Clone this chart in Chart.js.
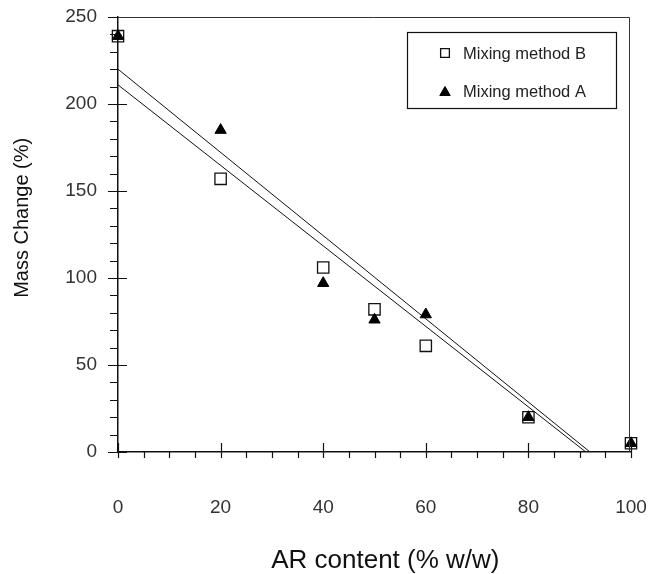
<!DOCTYPE html>
<html>
<head>
<meta charset="utf-8">
<script src="https://cdn.jsdelivr.net/npm/chart.js@4.4.0/dist/chart.umd.min.js"></script>
<style>
	html, body { margin: 0; padding: 0; background: #fff; }
	#wrap { width: 648px; height: 574px; }
</style>
</head>
<body>
<div id="wrap"><canvas id="massChart" width="648" height="574"></canvas></div>
<script>
// values
var arContent = [0, 20, 40, 50, 60, 80, 100];
var methodB = [239, 157, 106, 82, 61, 20, 5];
var methodA = [239, 185, 97, 76, 79, 20, 5];

// end points of the two fitted lines
var fitAx = [0, 92];
var fitAy = [220, 0];
var fitBx = [0, 91.2];
var fitBy = [211, 0];

var xMajor = 20, xMinor = 5;
var yMajor = 50, yMinor = 10;

var FONT = "'Liberation Sans', Arial, sans-serif";

function toPoints(xs, ys) {
	return xs.map(function (x, i) {
		return { x: x, y: ys[i] };
	});
}

// tick marks: major ones cross the axis, minor ones sit outside
var tickMarks = {
	id: "tickMarks",
	afterDatasetsDraw: function (chart) {
		var ctx = chart.ctx;
		var a = chart.chartArea;
		var xs = chart.scales.x;
		var ys = chart.scales.y;
		ctx.save();
		ctx.strokeStyle = "#111";
		ctx.lineWidth = 1.2;
		ctx.beginPath();
		xs.ticks.forEach(function (t) {
			var px = Math.round(xs.getPixelForValue(t.value)) + 0.5;
			var major = t.value % xMajor === 0;
			ctx.moveTo(px, major ? a.bottom - 9 : a.bottom);
			ctx.lineTo(px, a.bottom + 6);
		});
		ys.ticks.forEach(function (t) {
			var py = Math.round(ys.getPixelForValue(t.value)) + 0.5;
			var major = t.value % yMajor === 0;
			ctx.moveTo(a.left - (major ? 10 : 8), py);
			ctx.lineTo(major ? a.left + 9 : a.left, py);
		});
		ctx.stroke();
		// frame on top and right
		ctx.beginPath();
		ctx.lineWidth = 1;
		ctx.strokeStyle = "#333";
		ctx.moveTo(a.left, a.top + 0.5);
		ctx.lineTo(a.right - 1.5, a.top + 0.5);
		ctx.lineTo(a.right - 1.5, a.bottom);
		ctx.stroke();
		ctx.restore();
	},
};

// boxed legend inside the plot, top right
var boxLegend = {
	id: "boxLegend",
	afterDraw: function (chart) {
		var ctx = chart.ctx;
		var a = chart.chartArea;
		var w = 209, h = 76;
		var left = a.right - 15 - w;
		var top = a.top + 15;
		ctx.save();
		ctx.fillStyle = "#fff";
		ctx.fillRect(left, top, w, h);
		ctx.strokeStyle = "#111";
		ctx.lineWidth = 1.2;
		ctx.strokeRect(left + 0.5, top + 0.5, w, h);
		ctx.font = "16.5px " + FONT;
		ctx.textBaseline = "middle";
		[1, 0].forEach(function (idx, k) {
			var ds = chart.data.datasets[idx];
			var y = top + 21 + k * 38;
			ctx.fillStyle = ds.backgroundColor;
			ctx.strokeStyle = ds.borderColor;
			ctx.lineWidth = ds.borderWidth;
			Chart.helpers.drawPoint(
				ctx,
				{
					pointStyle: ds.pointStyle,
					radius: ds.pointStyle === "rect" ? 6.2 : 6,
					borderWidth: ds.borderWidth,
					rotation: 0,
				},
				left + 38,
				ds.pointStyle === "triangle" ? y + 1.5 : y
			);
			ctx.fillStyle = "#222";
			ctx.fillText(ds.label, left + 56, y + 1);
		});
		ctx.restore();
	},
};

var ctx = document.getElementById("massChart").getContext("2d");
var massChart = new Chart(ctx, {
	type: "scatter",
	data: {
		datasets: [
			{
				label: "Mixing method A",
				data: toPoints(arContent, methodA),
				pointStyle: "triangle",
				pointRadius: 6.5,
				backgroundColor: "#000",
				borderColor: "#000",
				borderWidth: 1,
				clip: false,
			},
			{
				label: "Mixing method B",
				data: toPoints(arContent, methodB),
				pointStyle: "rect",
				pointRadius: 8,
				backgroundColor: "rgba(0,0,0,0)",
				borderColor: "#111",
				borderWidth: 1.3,
				clip: false,
			},
			{
				label: "Fit A",
				data: toPoints(fitAx, fitAy),
				showLine: true,
				pointRadius: 0,
				borderColor: "#111",
				borderWidth: 1,
			},
			{
				label: "Fit B",
				data: toPoints(fitBx, fitBy),
				showLine: true,
				pointRadius: 0,
				borderColor: "#111",
				borderWidth: 1,
			},
		],
	},
	options: {
		responsive: false,
		animation: false,
		devicePixelRatio: 1,
		layout: {
			padding: { top: 17, right: 17, left: 0, bottom: 0 },
		},
		plugins: {
			legend: { display: false },
			tooltip: { enabled: false },
		},
		scales: {
			x: {
				type: "linear",
				min: 0,
				max: 100,
				afterFit: function (s) {
					s.height = 122;
					s.paddingLeft = 0;
					s.paddingRight = 0;
				},
				grid: { display: false, drawTicks: false },
				border: { display: true, color: "#111", width: 1.5 },
				ticks: {
					stepSize: xMinor,
					autoSkip: false,
					maxRotation: 0,
					padding: 44,
					color: "#333",
					font: { family: FONT, size: 19 },
					callback: function (v) {
						return v % xMajor === 0 ? v : "";
					},
				},
				title: {
					display: true,
					// leading spaces nudge the centred title to the right like the original
					text: "   AR content (% w/w)",
					color: "#111",
					font: { family: FONT, size: 26, lineHeight: 1 },
					padding: { top: 0, bottom: 0 },
				},
			},
			y: {
				type: "linear",
				min: 0,
				max: 250,
				afterFit: function (s) {
					s.width = 118;
					s.paddingTop = 0;
					s.paddingBottom = 0;
				},
				grid: { display: false, drawTicks: false },
				border: { display: true, color: "#111", width: 1.5 },
				ticks: {
					stepSize: yMinor,
					autoSkip: false,
					padding: 21,
					color: "#333",
					font: { family: FONT, size: 19 },
					callback: function (v) {
						return v % yMajor === 0 ? v : "";
					},
				},
				title: {
					display: true,
					// leading spaces lift the rotated title a little, as in the original
					text: "      Mass Change (%)",
					color: "#111",
					font: { family: FONT, size: 20, lineHeight: 1.2 },
					padding: { top: 10, bottom: 0 },
				},
			},
		},
	},
	plugins: [tickMarks, boxLegend],
});
</script>
</body>
</html>
